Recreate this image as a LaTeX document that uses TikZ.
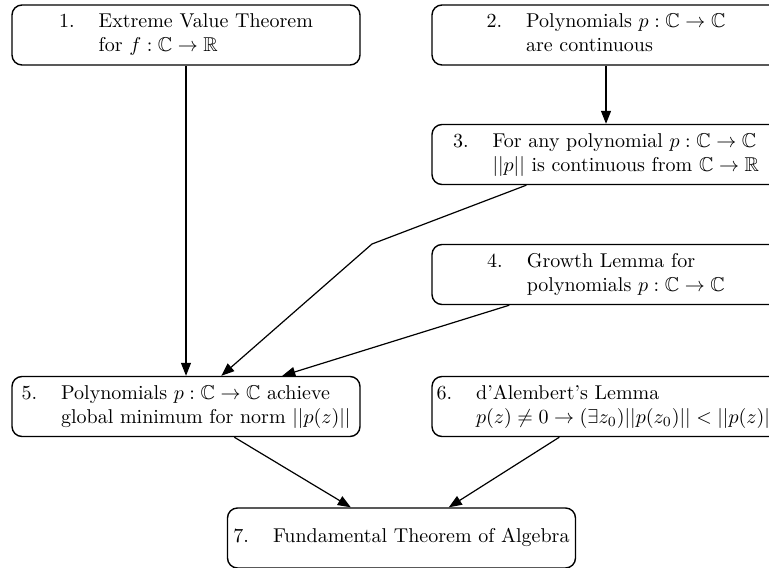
\documentclass[tikz,border=0pt]{standalone}
\usepackage{amsmath,amssymb}
\usetikzlibrary{arrows.meta,calc}
\tikzset{
  thm/.style={draw, line width=0.7pt, rounded corners=5pt, minimum width=174pt,
    minimum height=30pt, inner sep=0pt, align=center},
  link/.style={line width=0.6pt, -{Triangle[length=6.5pt,width=5pt]}}
}
\newcommand{\thmtab}[3]{\begin{tabular}{@{}l@{\hspace{12pt}}l@{}}#1&#2\\&#3\end{tabular}}
\begin{document}
\begin{tikzpicture}[x=0.5pt,y=-0.5pt]
\useasboundingbox (0,0) rectangle (769,567);
\node[thm] (n1) at (186,35) {\thmtab{1.}{Extreme Value Theorem}{for $f:\mathbb{C}\to\mathbb{R}$}};
\node[thm] (n2) at (606,35) {\thmtab{2.}{Polynomials $p:\mathbb{C}\to\mathbb{C}$}{are continuous}};
\node[thm] (n3) at (606,154.5) {\thmtab{3.}{For any polynomial $p:\mathbb{C}\to\mathbb{C}$}{$||p||$ is continuous from $\mathbb{C}\to\mathbb{R}$}};
\node[thm] (n4) at (606,274.5) {\thmtab{4.}{Growth Lemma for}{polynomials $p:\mathbb{C}\to\mathbb{C}$}};
\node[thm] (n5) at (186,406.5) {\thmtab{5.}{Polynomials $p:\mathbb{C}\to\mathbb{C}$ achieve}{global minimum for norm $||p(z)||$}};
\node[thm] (n6) at (606,406.5) {\thmtab{6.}{d'Alembert's Lemma}{$p(z)\neq 0\to(\exists z_0)||p(z_0)||<||p(z)||$}};
\node[thm] (n7) at (401.5,538) {\begin{tabular}{@{}l@{\hspace{12pt}}l@{}}7.&Fundamental Theorem of Algebra\end{tabular}};
\coordinate (bend) at (372,244);
\draw[link] (n1.south) -- (n5.north -| n1.south);
\draw[link] (n2.south) -- (n3.north);
\draw[link] ($(n3.south west)+(95,0)$) -- (bend) -- ($(n5.north west)+(210,0)$);
\draw[link] ($(n4.south west)+(78,0)$) -- ($(n5.north west)+(271,0)$);
\draw[link] ($(n5.south west)+(223,0)$) -- ($(n7.north west)+(124,0)$);
\draw[link] ($(n6.south west)+(128,0)$) -- ($(n7.north west)+(222,0)$);
\end{tikzpicture}
\end{document}
